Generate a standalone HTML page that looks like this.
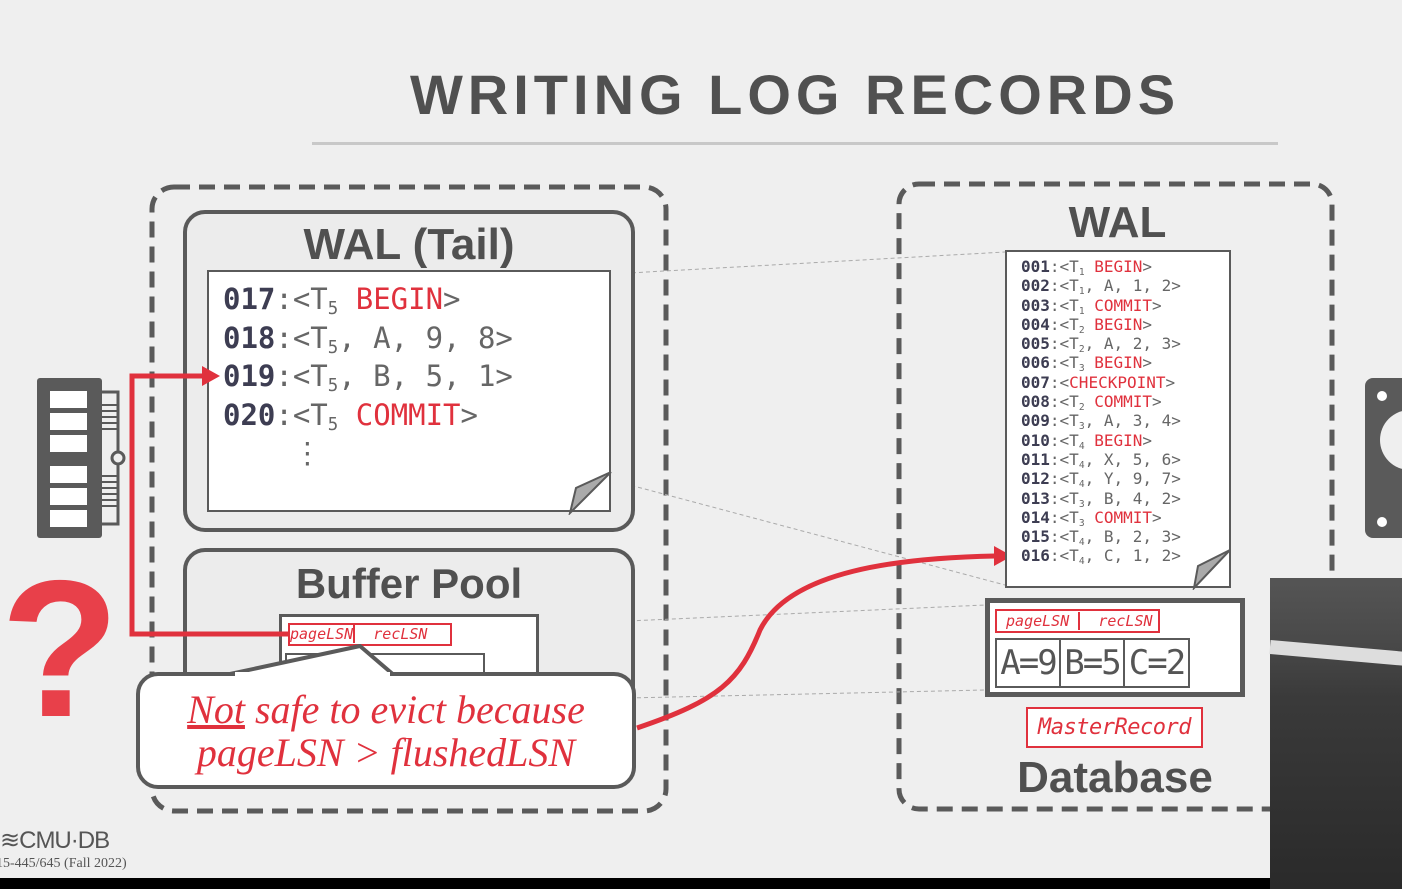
<!DOCTYPE html>
<html><head><meta charset="utf-8"><style>
*{margin:0;padding:0;box-sizing:border-box}
body{width:1402px;height:889px;overflow:hidden;background:#efefef;position:relative;font-family:"Liberation Sans",sans-serif}
.a{position:absolute}
.mono{font-family:"DejaVu Sans Mono","Liberation Mono",monospace;color:#666;white-space:pre}
.n{color:#3d3d52;font-weight:bold}
.r{color:#e0313d}
.box{border:4px solid #5a5a5a;border-radius:22px;background:#ececec}
.paper{background:#fff;border:2px solid #5a5a5a}
.t{font-weight:bold;color:#555;text-align:center}
sub{font-size:60%;vertical-align:-0.3em;line-height:0}
</style></head><body>
<div class="a t" style="left:312px;top:62px;width:966px;font-size:56px;letter-spacing:5px;color:#505050">WRITING LOG RECORDS</div>
<div class="a" style="left:312px;top:142px;width:966px;height:3px;background:#c8c8c8"></div>

<svg class="a" style="left:0;top:0" width="1402" height="889">
<rect x="152" y="187" width="514" height="624" rx="22" fill="none" stroke="#5a5a5a" stroke-width="5" stroke-dasharray="16,9"/>
<rect x="899" y="184" width="433" height="625" rx="20" fill="none" stroke="#5a5a5a" stroke-width="5" stroke-dasharray="16,9"/>
<g stroke="#aaa" stroke-width="1" stroke-dasharray="4,3">
<line x1="611" y1="274" x2="1005" y2="252"/><line x1="611" y1="480" x2="1005" y2="585"/>
<line x1="539" y1="625" x2="985" y2="605"/><line x1="539" y1="700" x2="985" y2="690"/>
</g>
<!-- RAM -->
<rect x="37" y="378" width="65" height="160" rx="3" fill="#5a5a5a"/>
<rect x="100" y="392" width="18" height="132" fill="none" stroke="#5a5a5a" stroke-width="3"/>
<g stroke="#5a5a5a" stroke-width="2"><line x1="100" y1="405" x2="117" y2="405"/><line x1="100" y1="411" x2="117" y2="411"/><line x1="100" y1="417" x2="117" y2="417"/><line x1="100" y1="423" x2="117" y2="423"/><line x1="100" y1="429" x2="117" y2="429"/><line x1="100" y1="476" x2="117" y2="476"/><line x1="100" y1="482" x2="117" y2="482"/><line x1="100" y1="488" x2="117" y2="488"/><line x1="100" y1="494" x2="117" y2="494"/><line x1="100" y1="500" x2="117" y2="500"/><line x1="100" y1="506" x2="117" y2="506"/></g>
<circle cx="118" cy="458" r="6" fill="#efefef" stroke="#5a5a5a" stroke-width="3"/>
<g fill="#fff"><rect x="50" y="391" width="37" height="17"/><rect x="50" y="413" width="37" height="17"/><rect x="50" y="435" width="37" height="17"/><rect x="50" y="466" width="37" height="17"/><rect x="50" y="488" width="37" height="17"/><rect x="50" y="510" width="37" height="17"/></g>
<!-- disk -->
<rect x="1365" y="378" width="50" height="160" rx="8" fill="#5a5a5a"/>
<circle cx="1382" cy="396" r="5" fill="#fff"/><circle cx="1382" cy="522" r="5" fill="#fff"/>
<circle cx="1410" cy="440" r="30" fill="#efefef"/>
<!-- question -->
<text x="60" y="716" font-size="195" font-weight="bold" fill="#e8404a" text-anchor="middle" font-family="Liberation Sans">?</text>
</svg>

<!-- WAL Tail -->
<div class="a box" style="left:183px;top:210px;width:452px;height:322px"></div>
<div class="a t" style="left:183px;top:220px;width:452px;font-size:44px;color:#505050">WAL (Tail)</div>
<div class="a paper" style="left:207px;top:270px;width:404px;height:242px"></div>
<svg class="a" style="left:568px;top:470px" width="45" height="45"><polygon points="43,2 43,2 2,43 8,18" fill="#aaa" stroke="#5a5a5a" stroke-width="2"/></svg>
<div class="a mono" style="left:223px;top:280px;font-size:29px;line-height:38.5px"><span class="n">017</span>:&lt;T<sub>5</sub> <span class="r">BEGIN</span>&gt;
<span class="n">018</span>:&lt;T<sub>5</sub>, A, 9, 8&gt;
<span class="n">019</span>:&lt;T<sub>5</sub>, B, 5, 1&gt;
<span class="n">020</span>:&lt;T<sub>5</sub> <span class="r">COMMIT</span>&gt;
    ⋮</div>

<!-- Buffer pool -->
<div class="a box" style="left:183px;top:548px;width:452px;height:240px"></div>
<div class="a t" style="left:183px;top:560px;width:452px;font-size:42px;color:#505050">Buffer Pool</div>
<div class="a" style="left:279px;top:614px;width:260px;height:70px;background:#fff;border:3px solid #5a5a5a;border-bottom:none"></div>
<div class="a" style="left:288px;top:623px;width:164px;height:23px;border:2px solid #e0313d;font:italic 15px 'DejaVu Sans Mono',monospace;color:#e0313d;white-space:pre;line-height:19px;background:#fff">pageLSN<span style="border-left:2px solid #e0313d">  recLSN</span></div>
<div class="a" style="left:285px;top:653px;width:200px;height:30px;border:2px solid #5a5a5a"></div>

<!-- red arrows on top -->
<svg class="a" style="left:0;top:0" width="1402" height="889">
<polyline points="288,634 132,634 132,376 205,376" fill="none" stroke="#e0313d" stroke-width="5"/>
<polygon points="220,376 202,366 202,386" fill="#e0313d"/>
<path d="M637,728 C720,700 740,680 760,630 C790,570 900,558 995,556" fill="none" stroke="#e0313d" stroke-width="5"/>
<polygon points="1012,556 994,546 994,566" fill="#e0313d"/>
</svg>

<!-- callout -->
<svg class="a" style="left:135px;top:640px" width="510" height="155">
<path d="M95,34 L225,6 L260,36 Z" fill="#fff" stroke="#5a5a5a" stroke-width="4" stroke-linejoin="round"/>
<rect x="3" y="34" width="496" height="113" rx="20" fill="#fff" stroke="#5a5a5a" stroke-width="4"/>
<rect x="100" y="32" width="155" height="6" fill="#fff"/>
</svg>
<div class="a" style="left:137px;top:688px;width:498px;text-align:center;font:italic 40px/43px 'Liberation Serif',serif;color:#e0313d"><u>Not</u> safe to evict because<br>pageLSN &gt; flushedLSN</div>

<!-- WAL right -->
<div class="a t" style="left:900px;top:198px;width:435px;font-size:44px;color:#505050">WAL</div>
<div class="a paper" style="left:1005px;top:250px;width:226px;height:338px"></div>
<svg class="a" style="left:1192px;top:548px" width="40" height="42"><polygon points="38,2 2,40 6,18" fill="#aaa" stroke="#5a5a5a" stroke-width="2"/></svg>
<div class="a mono" style="left:1021px;top:257px;font-size:16px;line-height:19.3px"><span class="n">001</span>:&lt;T<sub>1</sub> <span class="r">BEGIN</span>&gt;
<span class="n">002</span>:&lt;T<sub>1</sub>, A, 1, 2&gt;
<span class="n">003</span>:&lt;T<sub>1</sub> <span class="r">COMMIT</span>&gt;
<span class="n">004</span>:&lt;T<sub>2</sub> <span class="r">BEGIN</span>&gt;
<span class="n">005</span>:&lt;T<sub>2</sub>, A, 2, 3&gt;
<span class="n">006</span>:&lt;T<sub>3</sub> <span class="r">BEGIN</span>&gt;
<span class="n">007</span>:&lt;<span class="r">CHECKPOINT</span>&gt;
<span class="n">008</span>:&lt;T<sub>2</sub> <span class="r">COMMIT</span>&gt;
<span class="n">009</span>:&lt;T<sub>3</sub>, A, 3, 4&gt;
<span class="n">010</span>:&lt;T<sub>4</sub> <span class="r">BEGIN</span>&gt;
<span class="n">011</span>:&lt;T<sub>4</sub>, X, 5, 6&gt;
<span class="n">012</span>:&lt;T<sub>4</sub>, Y, 9, 7&gt;
<span class="n">013</span>:&lt;T<sub>3</sub>, B, 4, 2&gt;
<span class="n">014</span>:&lt;T<sub>3</sub> <span class="r">COMMIT</span>&gt;
<span class="n">015</span>:&lt;T<sub>4</sub>, B, 2, 3&gt;
<span class="n">016</span>:&lt;T<sub>4</sub>, C, 1, 2&gt;</div>

<div class="a" style="left:985px;top:598px;width:260px;height:99px;background:#fff;border:5px solid #5a5a5a"></div>
<div class="a" style="left:995px;top:609px;width:165px;height:24px;border:2px solid #e0313d;font:italic 15px 'DejaVu Sans Mono',monospace;color:#e0313d;white-space:pre;line-height:20px"> pageLSN <span style="border-left:2px solid #e0313d">  recLSN</span></div>
<div class="a" style="left:995px;top:638px;width:195px;height:50px;border:2px solid #5a5a5a;font:34px/46px 'DejaVu Sans Mono','Liberation Mono',monospace;color:#555;white-space:pre;letter-spacing:-2px;display:flex"><span style="width:64px;border-right:2px solid #5a5a5a;text-align:center">A=9</span><span style="width:64px;border-right:2px solid #5a5a5a;text-align:center">B=5</span><span style="width:63px;text-align:center">C=2</span></div>
<div class="a" style="left:1026px;top:707px;width:177px;height:41px;background:#fff;border:2px solid #e0313d;font:italic 22px/37px 'DejaVu Sans Mono',monospace;color:#e0313d;text-align:center;letter-spacing:-0.5px">MasterRecord</div>
<div class="a t" style="left:985px;top:753px;width:260px;font-size:44px;color:#505050">Database</div>

<!-- footer -->
<div class="a" style="left:0;top:826px;font:24px 'Liberation Sans',sans-serif;color:#555;letter-spacing:-1px">≋CMU·DB</div>
<div class="a" style="left:-4px;top:856px;font:14px 'Liberation Serif',serif;color:#555">15-445/645 (Fall 2022)</div>

<div class="a" style="left:0;top:878px;width:1402px;height:11px;background:#000"></div>
<div class="a" style="left:1270px;top:578px;width:132px;height:311px;background:linear-gradient(#555 0,#4a4a4a 60px,#3a3a3a 120px,#2a2a2a 311px)"></div>
<div class="a" style="left:1270px;top:640px;width:140px;height:14px;background:#ddd;transform:rotate(5deg);transform-origin:left"></div>
</body></html>
